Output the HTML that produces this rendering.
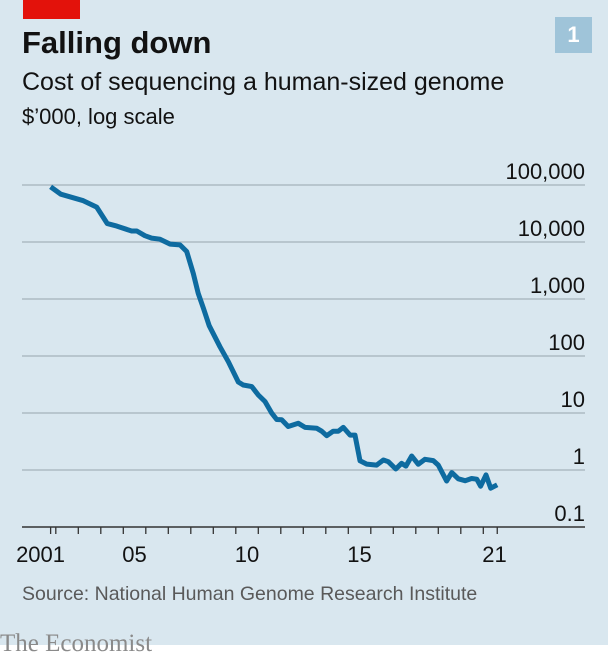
<!DOCTYPE html>
<html><head><meta charset="utf-8"><style>
html,body{margin:0;padding:0;}
body{width:608px;height:662px;position:relative;background:#fff;font-family:"Liberation Sans",sans-serif;overflow:hidden;}
#panel{position:absolute;left:0;top:0;width:608px;height:645px;background:#d9e7ef;}
.t{position:absolute;white-space:nowrap;}
</style></head><body>
<div id="panel"></div>
<div style="position:absolute;left:23px;top:0;width:57px;height:19px;background:#e3120b;"></div>
<div class="t" style="left:22px;top:25px;font-size:31px;font-weight:bold;color:#121212;">Falling down</div>
<div class="t" style="left:22px;top:68px;font-size:25px;color:#121212;">Cost of sequencing a human-sized genome</div>
<div class="t" style="left:22px;top:104px;font-size:22px;color:#121212;">$’000, log scale</div>
<div style="position:absolute;left:555px;top:17px;width:37px;height:36px;background:#9fc4d9;color:#fff;font-weight:bold;font-size:22px;text-align:center;line-height:36px;">1</div>
<svg id="chart" width="608" height="645" style="position:absolute;left:0;top:0;"></svg>
<div class="t" style="left:22px;top:583px;font-size:19.5px;color:#595959;">Source: National Human Genome Research Institute</div>
<div class="t" style="left:0;top:630px;font-family:'Liberation Serif',serif;font-size:25px;color:#8a8a8a;">The Economist</div>
<script>
const years=[2001.77,2002.22,2003.22,2003.82,2004.29,2004.71,2005.37,2005.6,2005.96,2006.26,2006.63,2007.08,2007.52,2007.82,2008.11,2008.33,2008.56,2008.82,2009.3,2009.67,2010.11,2010.33,2010.71,2011.0,2011.3,2011.6,2011.82,2012.04,2012.33,2012.78,2013.08,2013.6,2013.82,2014.04,2014.33,2014.56,2014.78,2015.08,2015.3,2015.52,2015.82,2016.26,2016.56,2016.78,2017.11,2017.37,2017.56,2017.82,2018.11,2018.41,2018.78,2019.0,2019.37,2019.6,2019.89,2020.19,2020.48,2020.71,2020.88,2021.12,2021.33,2021.62];
const costs=[93000,69000,53000,41000,21000,19000,15600,15600,12900,11700,11200,9200,8900,6800,2800,1260,690,340,145,79,35,31,29,20.7,15.9,9.9,7.7,7.6,5.8,6.6,5.6,5.4,4.8,4.0,4.8,4.8,5.6,4.1,4.1,1.45,1.27,1.22,1.5,1.4,1.04,1.31,1.17,1.76,1.26,1.54,1.46,1.22,0.64,0.9,0.70,0.65,0.71,0.69,0.52,0.82,0.48,0.55];
const yTicks=[100000,10000,1000,100,10,1];
const yTickLabels=["100,000","10,000","1,000","100","10","1"];
const xLabelYears=[2001,2005,2010,2015,2021];
const xLabels=["2001","05","10","15","21"];
const NS="http://www.w3.org/2000/svg";
const svg=document.getElementById('chart');
const X=t=>123.3+(t-2005)*22.5;
const Y=v=>185+(5-Math.log10(v))*57;
function mk(tag,attrs){const e=document.createElementNS(NS,tag);for(const k in attrs)e.setAttribute(k,attrs[k]);svg.appendChild(e);return e;}
yTicks.forEach((v,i)=>{
  const g=mk('line',{x1:22,x2:585,y1:Y(v),y2:Y(v),stroke:'#aebbc3','stroke-width':1.5});
  
  
  const t=mk('text',{x:585,y:Y(v)-6,'text-anchor':'end','font-size':22,fill:'#121212','font-family':'Liberation Sans, sans-serif'});
  t.textContent=yTickLabels[i];
  
  
});
const base=Y(0.1);
const bl=mk('text',{x:585,y:base-6,'text-anchor':'end','font-size':22,fill:'#121212','font-family':'Liberation Sans, sans-serif'});
bl.textContent="0.1";


const ax=mk('line',{x1:22,x2:585,y1:base,y2:base,stroke:'#333','stroke-width':1.5});


const tickYears=[years[0]];
for(let y=2002;y<=2021;y++)tickYears.push(y);
tickYears.push(years[years.length-1]);
tickYears.forEach(t=>{
  const tk=mk('line',{x1:X(t),x2:X(t),y1:base,y2:base+7,stroke:'#333','stroke-width':1.3});
  
  
});
xLabelYears.forEach((yr,i)=>{
  const t=mk('text',{x:X(yr+0.5)-(i===0?4:0),y:base+35,'text-anchor':'middle','font-size':22,fill:'#121212','font-family':'Liberation Sans, sans-serif'});
  t.textContent=xLabels[i];
  
  
});
const d=years.map((t,i)=>(i?'L':'M')+X(t).toFixed(1)+','+Y(costs[i]).toFixed(1)).join(' ');
const p=mk('path',{d:d,fill:'none',stroke:'#0e6ba0','stroke-width':5,'stroke-linejoin':'round'});


</script>
</body></html>
